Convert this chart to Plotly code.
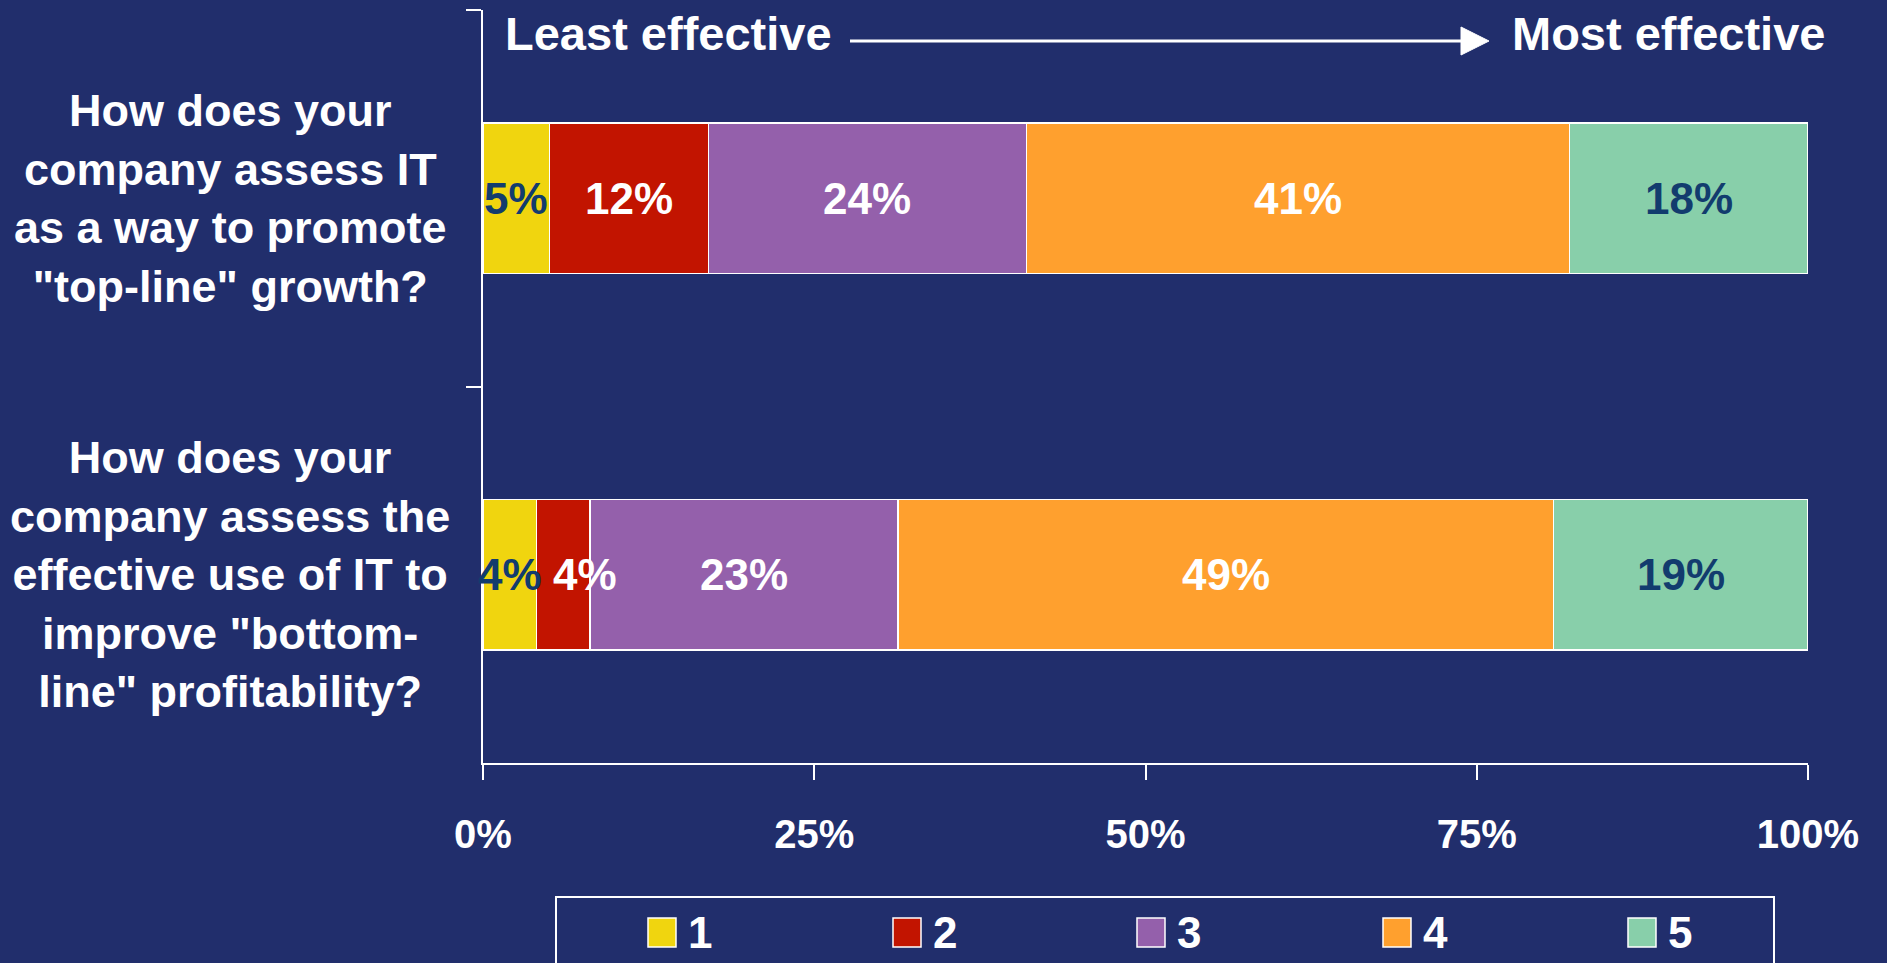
import plotly.graph_objects as go

# Survey questions (top to bottom) and the share of answers for each rating level
questions = [
    'How does your<br>company assess IT<br>as a way to promote<br>"top-line" growth?',
    'How does your<br>company assess the<br>effective use of IT to<br>improve "bottom-<br>line" profitability?',
]
levels = ["1", "2", "3", "4", "5"]
level_1 = [5, 4]
level_2 = [12, 4]
level_3 = [24, 23]
level_4 = [41, 49]
level_5 = [18, 19]
series = [level_1, level_2, level_3, level_4, level_5]

colors = ["#F0D50F", "#C21400", "#9460AB", "#FFA02E", "#88CFAA"]
label_colors = ["#123C6E", "white", "white", "white", "#123C6E"]

x_ticks = [0, 25, 50, 75, 100]
x_tick_text = ["0%", "25%", "50%", "75%", "100%"]

BG = "#212E6C"
FONT = "Liberation Sans, Arial, sans-serif"
W, H = 1887, 963

# plot area in pixels
L, R, T, B = 483, 1808, 10, 763
PW, PH = R - L, B - T


def px(x):
    return (x - L) / PW


def py(y):
    return (B - y) / PH


fig = go.Figure()
for name, vals, col in zip(levels, series, colors):
    fig.add_trace(go.Bar(
        name=name,
        y=questions,
        x=vals,
        orientation="h",
        marker=dict(color=col, line=dict(color="white", width=1.5)),
        showlegend=False,
        hovertemplate="%{y}<br>" + name + ": %{x:.0f}%<extra></extra>",
    ))

annotations = []

# segment labels, placed at the centre of each normalised segment and drawn
# above all bars so a label wider than its segment is not covered
totals = [sum(s[r] for s in series) for r in range(len(questions))]
for r, q in enumerate(questions):
    cum = 0
    for i, (vals, tcol) in enumerate(zip(series, label_colors)):
        v = vals[r]
        centre = (cum + v / 2) / totals[r] * 100
        cum += v
        # the narrow second segment of the lower bar has its label nudged right
        shift = 22 if (i == 1 and r == 1) else 0
        annotations.append(dict(
            text=f"{v}%", xref="x", yref="y", x=centre, y=q, xshift=shift,
            xanchor="center", yanchor="middle", showarrow=False,
            font=dict(family=FONT, size=44, color=tcol, weight="bold"),
        ))

# question labels to the left of each bar
for q in questions:
    annotations.append(dict(
        text=q, xref="paper", yref="y", x=px(230), y=q,
        xanchor="center", yanchor="middle", align="center", showarrow=False,
        font=dict(family=FONT, size=45, color="white", weight="bold"),
    ))

# scale direction header
annotations.append(dict(
    text="Least effective", xref="paper", yref="paper", x=px(668), y=py(34),
    xanchor="center", yanchor="middle", showarrow=False,
    font=dict(family=FONT, size=47, color="white", weight="bold"),
))
annotations.append(dict(
    text="Most effective", xref="paper", yref="paper", x=px(1668), y=py(34),
    xanchor="center", yanchor="middle", showarrow=False,
    font=dict(family=FONT, size=47, color="white", weight="bold"),
))

shapes = [
    # arrow shaft and head
    dict(type="line", xref="paper", yref="paper",
         x0=px(850), x1=px(1465), y0=py(41), y1=py(41),
         line=dict(color="white", width=3)),
    dict(type="path", xref="paper", yref="paper",
         path=f"M {px(1461)},{py(27)} L {px(1489)},{py(41)} L {px(1461)},{py(55)} Z",
         fillcolor="white", line=dict(color="white", width=1)),
    # legend frame
    dict(type="rect", xref="paper", yref="paper",
         x0=px(556), x1=px(1774), y0=py(897), y1=py(1010),
         line=dict(color="white", width=2), fillcolor=BG),
]

# legend entries
sw_left = [648, 893, 1137, 1383, 1628]
for name, col, x0 in zip(levels, colors, sw_left):
    shapes.append(dict(
        type="rect", xref="paper", yref="paper",
        x0=px(x0), x1=px(x0 + 28), y0=py(918), y1=py(947),
        fillcolor=col, line=dict(color="white", width=1.5),
    ))
    annotations.append(dict(
        text=name, xref="paper", yref="paper", x=px(x0 + 38), y=py(932),
        xanchor="left", yanchor="middle", showarrow=False,
        font=dict(family=FONT, size=44, color="white", weight="bold"),
    ))

fig.update_layout(
    width=W, height=H,
    margin=dict(l=L, r=W - R, t=T, b=H - B, autoexpand=False),
    paper_bgcolor=BG, plot_bgcolor=BG,
    barmode="stack", barnorm="percent", bargap=0.6,
    annotations=annotations, shapes=shapes,
    showlegend=False,
    xaxis=dict(
        range=[0, 100.0001], tickvals=x_ticks, ticktext=x_tick_text,
        showgrid=False, zeroline=False,
        showline=True, linecolor="white", linewidth=2,
        ticks="outside", ticklen=15, tickwidth=2, tickcolor="white",
        ticklabelstandoff=20,
        tickfont=dict(family=FONT, size=40, color="white", weight="bold"),
    ),
    yaxis=dict(
        type="category", categoryorder="array", categoryarray=questions,
        range=[1.5, -0.5], tickson="boundaries",
        showticklabels=False, showgrid=False, zeroline=False,
        showline=True, linecolor="white", linewidth=2,
        ticks="outside", ticklen=15, tickwidth=2, tickcolor="white",
    ),
)

fig.write_html("out.html")
